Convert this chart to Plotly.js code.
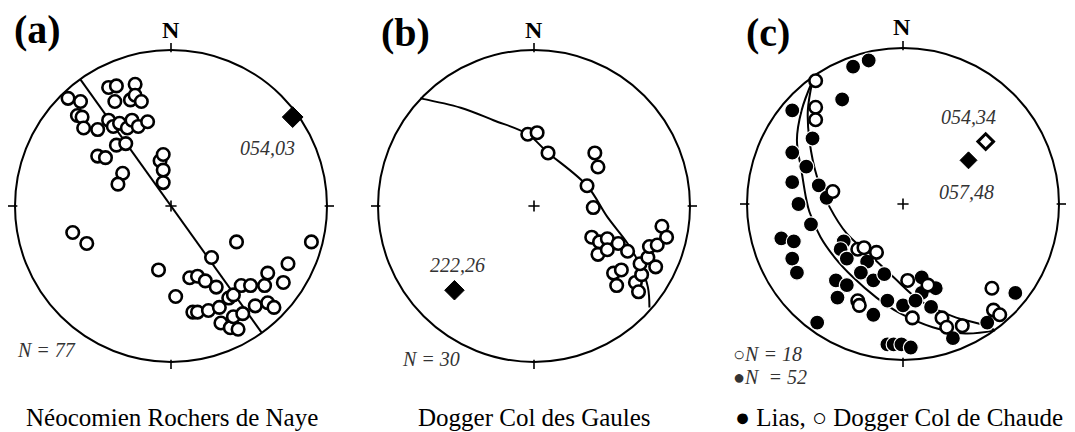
<!DOCTYPE html>
<html>
<head>
<meta charset="utf-8">
<script src="https://cdn.plot.ly/plotly-3.0.1.min.js"></script>
<style>html,body{margin:0;padding:0;background:#fff;}</style>
</head>
<body>
<div id="chart" style="width:1075px;height:432px;"></div>
<script>
// ---- Data (equal-area projection coordinates, unit = primitive circle radius; x = East, y = North) ----
// Panel (a) Néocomien Rochers de Naye, N = 77 (poles, open circles)
const aPolesX = [-0.66,-0.58,-0.60,-0.57,-0.56,-0.47,-0.40,-0.36,-0.40,-0.35,-0.37,-0.33,-0.23,-0.26,-0.23,-0.28,-0.19,-0.25,-0.21,-0.15,-0.35,-0.29,-0.47,-0.42,-0.31,-0.34,-0.07,-0.05,-0.05,-0.05,
                 -0.63,-0.54,-0.08,0.03,0.12,0.17,0.22,0.26,0.29,0.14,0.17,0.24,0.31,0.32,0.38,0.43,0.37,0.40,0.40,0.46,0.42,0.45,0.51,0.54,0.60,0.62,0.62,0.66,0.72,0.75,0.90];
const aPolesY = [0.69,0.67,0.58,0.57,0.50,0.49,0.76,0.67,0.55,0.77,0.51,0.53,0.78,0.68,0.71,0.50,0.67,0.55,0.51,0.54,0.39,0.40,0.32,0.31,0.21,0.14,0.29,0.33,0.23,0.15,
                 -0.17,-0.24,-0.41,-0.58,-0.46,-0.45,-0.48,-0.33,-0.52,-0.68,-0.68,-0.67,-0.65,-0.75,-0.78,-0.79,-0.59,-0.57,-0.71,-0.69,-0.23,-0.51,-0.51,-0.64,-0.51,-0.43,-0.62,-0.65,-0.49,-0.37,-0.23];
const aAxisX = [0.78], aAxisY = [0.57];          // 054,03
const aGreatX = [-0.58, 0.0, 0.58], aGreatY = [0.81, 0.0, -0.81];

// Panel (b) Dogger Col des Gaules, N = 30
const bPolesX = [-0.04,0.02,0.09,0.39,0.41,0.34,0.38,0.37,0.42,0.47,0.41,0.47,0.54,0.60,0.51,0.56,0.53,0.65,0.69,0.67,0.68,0.73,0.78,0.74,0.79,0.82,0.85];
const bPolesY = [0.46,0.47,0.34,0.34,0.25,0.13,-0.01,-0.20,-0.23,-0.21,-0.31,-0.28,-0.24,-0.29,-0.43,-0.41,-0.51,-0.49,-0.44,-0.55,-0.37,-0.33,-0.39,-0.26,-0.25,-0.13,-0.20];
const bAxisX = [-0.51], bAxisY = [-0.54];       // 222,26
const bGreatX = [-0.73,-0.47,-0.26,-0.04,0.08,0.34,0.47,0.60,0.68,0.73,0.74];
const bGreatY = [0.69,0.63,0.55,0.46,0.35,0.13,-0.07,-0.24,-0.38,-0.52,-0.65];

// Panel (c) Lias (filled, N = 52) and Dogger Col de Chaude (open, N = 18)
const cLiasX = [-0.32,-0.22,-0.39,-0.71,-0.58,-0.71,-0.62,-0.71,-0.54,-0.49,-0.67,-0.59,-0.78,-0.70,-0.71,-0.68,-0.38,-0.40,-0.36,-0.23,-0.27,-0.19,-0.12,-0.43,-0.36,-0.42,-0.19,-0.10,0.00,0.12,0.21,0.12,0.18,0.32,0.54,0.72,-0.55,-0.10,-0.06,-0.01,0.05,0.08];
const cLiasY = [0.88,0.92,0.67,0.60,0.42,0.33,0.24,0.14,0.12,0.04,0.00,-0.13,-0.22,-0.24,-0.35,-0.44,-0.24,-0.29,-0.35,-0.37,-0.44,-0.49,-0.45,-0.49,-0.52,-0.60,-0.71,-0.62,-0.65,-0.47,-0.54,-0.57,-0.66,-0.86,-0.76,-0.57,-0.76,-0.90,-0.90,-0.90,-0.92,-0.62];
const cDoggerX = [-0.56,-0.56,-0.56,-0.45,-0.29,-0.25,-0.17,-0.29,-0.28,0.03,0.16,0.06,0.25,0.28,0.38,0.58,0.62,0.57];
const cDoggerY = [0.79,0.62,0.54,0.08,-0.29,-0.28,-0.31,-0.62,-0.65,-0.49,-0.52,-0.73,-0.73,-0.79,-0.78,-0.68,-0.71,-0.54];
const cAxisLiasX = [0.42], cAxisLiasY = [0.28];     // 057,48
const cAxisDoggerX = [0.53], cAxisDoggerY = [0.40]; // 054,34
const cGreatLiasX = [-0.58,-0.65,-0.68,-0.65,-0.62,-0.60,-0.53,-0.44,-0.32,-0.17,-0.02,0.19,0.40,0.59];
const cGreatLiasY = [0.79,0.60,0.41,0.21,0.03,-0.05,-0.21,-0.34,-0.47,-0.60,-0.70,-0.79,-0.83,-0.81];
const cGreatDoggerX = [-0.58,-0.61,-0.60,-0.55,-0.47,-0.36,-0.23,-0.06,0.11,0.32,0.53,0.59];
const cGreatDoggerY = [0.79,0.60,0.41,0.17,-0.02,-0.19,-0.31,-0.47,-0.62,-0.72,-0.78,-0.81];

// Text
const panelLetters = ['(a)','(b)','(c)'];
const panelTitles = ['Néocomien Rochers de Naye','Dogger Col des Gaules','\u25CF Lias, \u25CB Dogger Col de Chaude'];
const axisLabels = {a:'054,03', b:'222,26', cDogger:'054,34', cLias:'057,48'};
const countLabels = {a:'N = 77', b:'N = 30', cDogger:'N = 18', cLias:'N  = 52'};

// ---- Layout helpers ----
const R = 170/156;
const SERIF = 'Liberation Serif, Times New Roman, serif';
function ax(dom){ return {domain:dom, range:[-R,R], visible:false, showgrid:false, zeroline:false, fixedrange:true}; }

const openMarker = {symbol:'circle', size:12.5, color:'white', line:{color:'black', width:2.6}};
const filledMarker = {symbol:'circle', size:15, color:'black', line:{color:'white', width:1.2}};
const lineStyle = {color:'black', width:2};
const crossMarker = {symbol:'cross-thin', size:8, line:{color:'black', width:1.6}};

const traces = [];
function panelTraces(xa, ya){
  traces.push({x:[0], y:[0], xaxis:xa, yaxis:ya, mode:'markers', marker:crossMarker, hoverinfo:'skip'});
}
// (a)
panelTraces('x','y');
traces.push({x:aGreatX, y:aGreatY, xaxis:'x', yaxis:'y', mode:'lines', line:lineStyle, hoverinfo:'skip'});
traces.push({x:aPolesX, y:aPolesY, xaxis:'x', yaxis:'y', mode:'markers', marker:openMarker, cliponaxis:false});
traces.push({x:aAxisX, y:aAxisY, xaxis:'x', yaxis:'y', mode:'markers', marker:{symbol:'diamond', size:16, color:'black', line:{color:'black',width:1}}, cliponaxis:false});
// (b)
panelTraces('x2','y2');
traces.push({x:bGreatX, y:bGreatY, xaxis:'x2', yaxis:'y2', mode:'lines', line:Object.assign({shape:'spline'}, lineStyle), hoverinfo:'skip'});
traces.push({x:bPolesX, y:bPolesY, xaxis:'x2', yaxis:'y2', mode:'markers', marker:openMarker, cliponaxis:false});
traces.push({x:bAxisX, y:bAxisY, xaxis:'x2', yaxis:'y2', mode:'markers', marker:{symbol:'diamond', size:15, color:'black', line:{color:'black',width:1}}});
// (c)
panelTraces('x3','y3');
traces.push({x:cGreatLiasX, y:cGreatLiasY, xaxis:'x3', yaxis:'y3', mode:'lines', line:Object.assign({shape:'spline'}, lineStyle), hoverinfo:'skip'});
traces.push({x:cGreatDoggerX, y:cGreatDoggerY, xaxis:'x3', yaxis:'y3', mode:'lines', line:Object.assign({shape:'spline'}, lineStyle), hoverinfo:'skip'});
traces.push({x:cLiasX, y:cLiasY, xaxis:'x3', yaxis:'y3', mode:'markers', marker:filledMarker, cliponaxis:false});
traces.push({x:cDoggerX, y:cDoggerY, xaxis:'x3', yaxis:'y3', mode:'markers', marker:openMarker, cliponaxis:false});
traces.push({x:cAxisLiasX, y:cAxisLiasY, xaxis:'x3', yaxis:'y3', mode:'markers', marker:{symbol:'diamond', size:13, color:'black', line:{color:'black',width:1}}});
traces.push({x:cAxisDoggerX, y:cAxisDoggerY, xaxis:'x3', yaxis:'y3', mode:'markers', marker:{symbol:'diamond', size:12, color:'white', line:{color:'black',width:3}}});

// Shapes: primitive circles and cardinal ticks
const shapes = [];
[['x','y'],['x2','y2'],['x3','y3']].forEach(([xr,yr])=>{
  shapes.push({type:'circle', xref:xr, yref:yr, x0:-1, x1:1, y0:-1, y1:1, line:{color:'black', width:2}, layer:'below'});
  const t0 = 0.985, t1 = 1.045;
  shapes.push({type:'line', xref:xr, yref:yr, x0:0, x1:0, y0:t0, y1:t1, line:{color:'black', width:1.6}});
  shapes.push({type:'line', xref:xr, yref:yr, x0:0, x1:0, y0:-t0, y1:-t1, line:{color:'black', width:1.6}});
  shapes.push({type:'line', xref:xr, yref:yr, x0:t0, x1:t1, y0:0, y1:0, line:{color:'black', width:1.6}});
  shapes.push({type:'line', xref:xr, yref:yr, x0:-t0, x1:-t1, y0:0, y1:0, line:{color:'black', width:1.6}});
});

const anns = [];
function P(t, px, py, size, xa, color){ anns.push({text:t, xref:'paper', yref:'paper', x:px/1075, y:1-py/432, showarrow:false, xanchor:xa||'center', yanchor:'middle', font:{family:SERIF, size:size, color:color||'black'}}); }
const letterPx = [[37,30],[405,33],[768,33]];
panelLetters.forEach((t,i)=>P('<b>'+t+'</b>', letterPx[i][0], letterPx[i][1], 40));
const titlePx = [172,534,899];
panelTitles.forEach((t,i)=>P(t, titlePx[i], 417, 25));
const nPx = [[171,30],[534,30],[902,27]];
nPx.forEach(p=>P('<b>N</b>', p[0], p[1], 24));
function it(t, xr, yr, x, y){ anns.push({text:'<i>'+t+'</i>', xref:xr, yref:yr, x:x, y:y, showarrow:false, xanchor:'center', yanchor:'middle', font:{family:SERIF, size:20, color:'#333'}}); }
it(axisLabels.a,'x','y',0.62,0.37);
it(countLabels.a,'x','y',-0.80,-0.92);
it(axisLabels.b,'x2','y2',-0.49,-0.38);
it(countLabels.b,'x2','y2',-0.66,-0.98);
it(axisLabels.cDogger,'x3','y3',0.42,0.56);
it(axisLabels.cLias,'x3','y3',0.41,0.08);
P('<b>\u25CB</b><i>'+countLabels.cDogger+'</i>', 731, 354, 20, 'left', '#333');
P('<b>\u25CF</b><i>'+countLabels.cLias+'</i>', 731, 377, 20, 'left', '#333');

const layout = {
  width:1075, height:432, margin:{l:0,r:0,t:0,b:0},
  paper_bgcolor:'white', plot_bgcolor:'rgba(0,0,0,0)', showlegend:false,
  xaxis: ax([1/1075, 341/1075]), yaxis: ax([56/432, 396/432]),
  xaxis2: ax([364/1075, 704/1075]), yaxis2: ax([56/432, 396/432]),
  xaxis3: ax([733/1075, 1073/1075]), yaxis3: ax([58/432, 398/432]),
  shapes: shapes, annotations: anns
};
layout.yaxis.anchor='x'; layout.xaxis.anchor='y';
layout.yaxis2.anchor='x2'; layout.xaxis2.anchor='y2';
layout.yaxis3.anchor='x3'; layout.xaxis3.anchor='y3';

Plotly.newPlot('chart', traces, layout, {staticPlot:true, displayModeBar:false});
</script>
</body>
</html>
